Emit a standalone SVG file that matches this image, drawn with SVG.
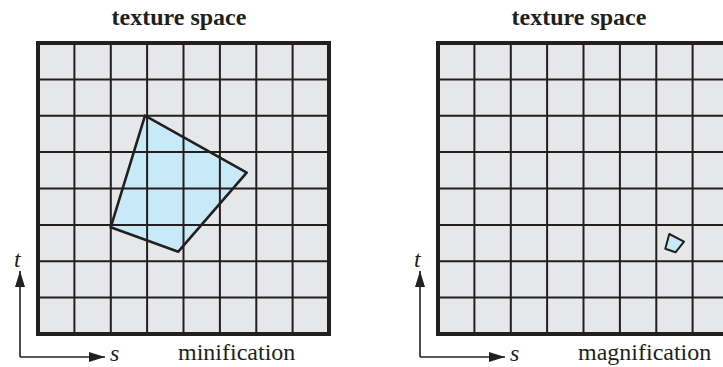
<svg xmlns="http://www.w3.org/2000/svg" width="723" height="367" viewBox="0 0 723 367">
<style>
.bg{fill:#e6e7e8;stroke:none}
.grid{fill:none;stroke:#231f20;stroke-width:2}
.border{fill:none;stroke:#231f20;stroke-width:4}
.quad{fill:#c7e9f8;stroke:none}
.quadline{fill:none;stroke:#231f20;stroke-width:2.6;stroke-linejoin:round}
.axis{fill:none;stroke:#231f20;stroke-width:1.6}
.title{font-family:"Liberation Serif",serif;font-weight:bold;font-size:24px;fill:#231f20;text-anchor:middle}
.label{font-family:"Liberation Serif",serif;font-size:24px;fill:#231f20}
.var{font-family:"Liberation Serif",serif;font-style:italic;font-size:24px;fill:#231f20}
</style>
<defs>
<marker id="arr" viewBox="0 0 16 10" refX="16" refY="5" markerWidth="16" markerHeight="10" markerUnits="userSpaceOnUse" orient="auto">
<path d="M0,0 L16,5 L0,10 Z" fill="#231f20"/>
</marker>
<path id="gridlines" d="M74.4,43V334M110.8,43V334M147.1,43V334M183.5,43V334M219.9,43V334M256.3,43V334M292.6,43V334M38,79.4H329M38,115.8H329M38,152.1H329M38,188.5H329M38,224.9H329M38,261.3H329M38,297.6H329"/>
</defs>
<g id="minification">
<text class="title" x="179" y="25">texture space</text>
<rect class="bg" x="38" y="43" width="291" height="291"/>
<polygon class="quad" points="145,115.7 246.7,172.7 178.3,251.7 110.7,227.3"/>
<use href="#gridlines" class="grid"/>
<polygon class="quadline" points="145,115.7 246.7,172.7 178.3,251.7 110.7,227.3"/>
<rect class="border" x="38" y="43" width="291" height="291"/>
<text class="label" x="178" y="360">minification</text>
</g>
<g id="magnification">
<text class="title" x="579" y="25">texture space</text>
<rect class="bg" x="438" y="43" width="291" height="291"/>
<polygon class="quad" points="669.3,234 684,241.7 675.5,252.3 665.3,248.8"/>
<use href="#gridlines" class="grid" transform="translate(400,0)"/>
<polygon class="quadline" points="669.3,234 684,241.7 675.5,252.3 665.3,248.8" style="stroke-width:2"/>
<rect class="border" x="438" y="43" width="291" height="291"/>
<text class="label" x="578" y="360">magnification</text>
</g>
<g id="connectors">
<path class="axis" d="M20,357V271" marker-end="url(#arr)"/>
<path class="axis" d="M20,357H105" marker-end="url(#arr)"/>
<path class="axis" d="M420,357V271" marker-end="url(#arr)"/>
<path class="axis" d="M420,357H505" marker-end="url(#arr)"/>
</g>
<g id="axis-labels">
<text class="var" x="14" y="267">t</text>
<text class="var" x="110" y="361">s</text>
<text class="var" x="414" y="267">t</text>
<text class="var" x="510" y="361">s</text>
</g>
</svg>
